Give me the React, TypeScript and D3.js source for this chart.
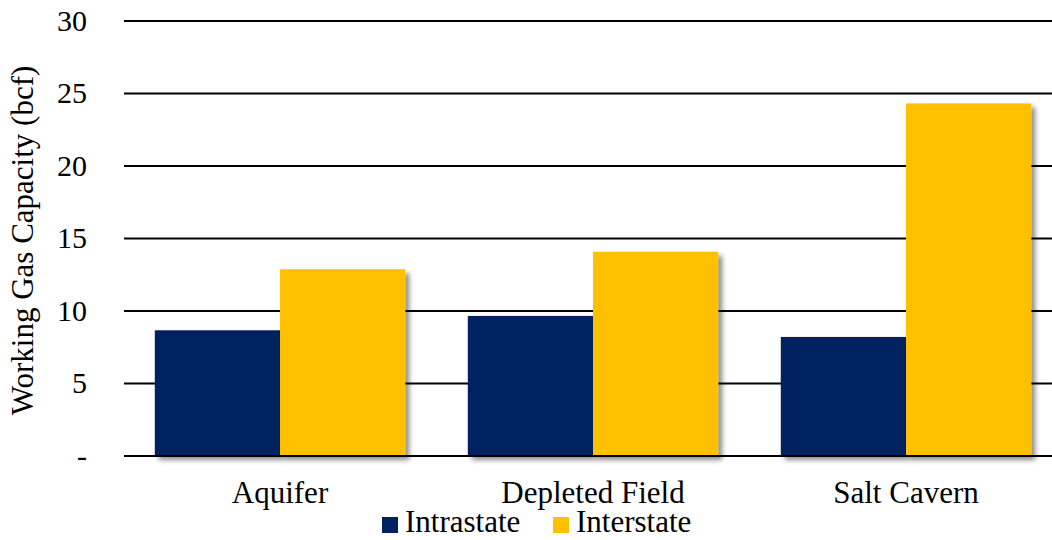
import React from "react";
import * as d3 from "d3";

// Working gas capacity by storage type (bcf)
const categories = ["Aquifer", "Depleted Field", "Salt Cavern"];
const seriesNames = ["Intrastate", "Interstate"];
const intrastate = [8.67, 9.66, 8.21];
const interstate = [12.88, 14.09, 24.32];
const yTicks = [0, 5, 10, 15, 20, 25, 30];
const yTickLabels = ["-", "5", "10", "15", "20", "25", "30"];
const seriesColors = ["#002060", "#FFC000"];

const W = 1052;
const H = 540;
const FONT = '"Liberation Serif", "Times New Roman", Times, serif';
const tickStyle = { fontFamily: FONT, fontSize: "30px" };
const textStyle = { fontFamily: FONT, fontSize: "31px" };

export default function App() {
  const y = d3.scaleLinear().domain([0, 30]).range([456, 21]);
  const x = d3
    .scaleBand<string>()
    .domain(categories)
    .range([123.5, 1062.5])
    .paddingInner(0.2)
    .paddingOuter(0.1);
  const xs = d3
    .scaleBand<string>()
    .domain(seriesNames)
    .range([0, x.bandwidth()])
    .padding(0);
  const color = d3.scaleOrdinal<string, string>().domain(seriesNames).range(seriesColors);
  const values: Record<string, number[]> = {
    Intrastate: intrastate,
    Interstate: interstate,
  };

  const gridLeft = 124;

  return (
    <svg
      width={W}
      height={H}
      style={{ position: "absolute", left: 0, top: 0, background: "#fff" }}
    >
      <defs>
        <filter id="barShadow" x="-10%" y="-10%" width="130%" height="130%">
          <feDropShadow dx="4" dy="4" stdDeviation="2.5" floodColor="#000" floodOpacity="0.45" />
        </filter>
      </defs>

      {/* horizontal gridlines */}
      {yTicks
        .filter((t) => t !== 0)
        .map((t) => (
          <line key={t} x1={gridLeft} x2={W} y1={y(t)} y2={y(t)} stroke="#000" strokeWidth={2} />
        ))}

      {/* y tick labels */}
      {yTicks.map((t, i) => (
        <text
          key={"yl" + t}
          x={87}
          y={y(t)}
          dy="0.32em"
          textAnchor="end"
          style={tickStyle}
          fill="#000"
        >
          {yTickLabels[i]}
        </text>
      ))}

      {/* bars */}
      {categories.map((c, ci) => (
        <g key={c} transform={`translate(${x(c)},0)`}>
          {seriesNames.map((s) => (
            <rect
              key={s}
              x={xs(s)}
              y={y(values[s][ci])}
              width={xs.bandwidth()}
              height={y(0) - y(values[s][ci])}
              fill={color(s)}
              filter="url(#barShadow)"
            />
          ))}
        </g>
      ))}

      {/* zero line */}
      <line x1={gridLeft} x2={W} y1={y(0)} y2={y(0)} stroke="#000" strokeWidth={2} />

      {/* category labels */}
      {categories.map((c) => (
        <text
          key={"cl" + c}
          x={(x(c) as number) + x.bandwidth() / 2}
          y={503}
          textAnchor="middle"
          style={textStyle}
          fill="#000"
        >
          {c}
        </text>
      ))}

      {/* y axis title */}
      <text
        transform={`translate(33, ${(y(0) + y(30)) / 2 + 2}) rotate(-90)`}
        textAnchor="middle"
        style={textStyle}
        fill="#000"
      >
        Working Gas Capacity (bcf)
      </text>

      {/* legend */}
      {seriesNames.map((s, i) => {
        const lx = [382, 553][i];
        return (
          <g key={"lg" + s}>
            <rect x={lx} y={517} width={16} height={16} fill={color(s)} />
            <text x={lx + 23} y={532} style={textStyle} fill="#000">
              {s}
            </text>
          </g>
        );
      })}
    </svg>
  );
}
